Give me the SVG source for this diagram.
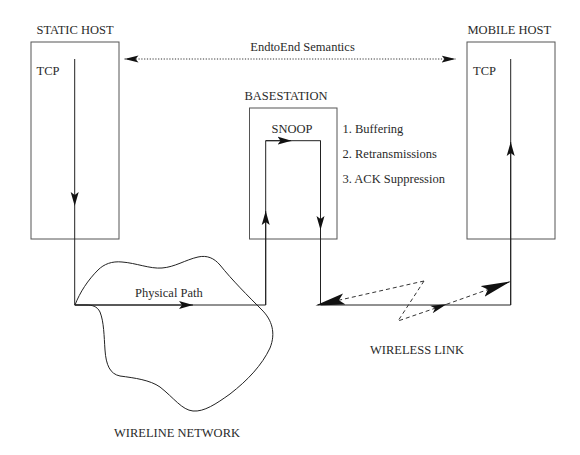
<svg xmlns="http://www.w3.org/2000/svg" width="580" height="455" viewBox="0 0 580 455">
<style>
  text { font-family: "Liberation Serif", "Times New Roman", serif; font-size: 12.5px; fill: #2a2a2a; }
  .box { fill: none; stroke: #555; stroke-width: 1; }
  .line { fill: none; stroke: #222; stroke-width: 1; }
  .dot { fill: none; stroke: #333; stroke-width: 1; stroke-dasharray: 1.2 1.6; }
  .dash { fill: none; stroke: #333; stroke-width: 1; stroke-dasharray: 4 3; }
</style>
<defs>
  <marker id="ah" markerUnits="userSpaceOnUse" markerWidth="16" markerHeight="10" refX="14" refY="4.5" orient="auto">
    <path d="M14,4.5 L0,0.5 L3,4.5 L0,8.5 Z" fill="#111"/>
  </marker>
  <marker id="ahs" markerUnits="userSpaceOnUse" markerWidth="16" markerHeight="10" refX="14" refY="4.5" orient="auto-start-reverse">
    <path d="M14,4.5 L0,1 L3,4.5 L0,8 Z" fill="#111"/>
  </marker>
  <marker id="big" markerUnits="userSpaceOnUse" markerWidth="32" markerHeight="14" refX="29.5" refY="7" orient="auto">
    <path d="M29.5,7 L0,1.3 L5.5,7 L0,12.7 Z" fill="#111"/>
  </marker>
  <marker id="mid" markerUnits="userSpaceOnUse" markerWidth="18" markerHeight="10" refX="16" refY="5" orient="auto">
    <path d="M16,5 L0,1 L4,5 L0,9 Z" fill="#111"/>
  </marker>
</defs>

<g id="wireline-network">
  <path class="line" d="M75,305 C80,292 88,280 98,270 C104,264 112,261 122,262 C136,263 150,269 162,268 C175,267 185,260 198,257 C207,255 214,258 220,265 C232,280 248,296 262,310 C272,320 276,333 270,348 C262,365 248,380 230,394 C216,404 204,412 193,411 C182,410 174,398 160,387 C150,380 135,378 120,376 C110,374 106,365 105,350 C104,336 104,322 100,312 C97,306 92,305 86,305 L75,305 Z"/>
  <text x="114" y="437">WIRELINE NETWORK</text>
</g>

<g id="static-host">
  <rect class="box" x="31" y="42" width="88" height="197"/>
  <text x="36.5" y="34">STATIC HOST</text>
  <text x="36.5" y="75">TCP</text>
</g>

<g id="basestation">
  <rect class="box" x="249.5" y="108" width="87.5" height="131"/>
  <text x="244.5" y="100">BASESTATION</text>
  <text x="271.5" y="132.5">SNOOP</text>
  <text x="342.5" y="132.5">1. Buffering</text>
  <text x="342.5" y="157.5">2. Retransmissions</text>
  <text x="342.5" y="182.5">3. ACK Suppression</text>
</g>

<g id="mobile-host">
  <rect class="box" x="467" y="42" width="88" height="197"/>
  <text x="467.5" y="34">MOBILE HOST</text>
  <text x="473" y="75">TCP</text>
</g>

<g id="connectors">
  <!-- end to end semantics -->
  <path class="dot" d="M124.5,59 L455.5,59" marker-start="url(#ahs)" marker-end="url(#ahs)"/>
  <text x="302.5" y="51" text-anchor="middle">EndtoEnd Semantics</text>

  <!-- physical path, wired -->
  <path class="line" d="M74.7,59 V206" marker-end="url(#ah)"/>
  <path class="line" d="M74.7,206 V305 H193"/>
  <path class="line" d="M74.7,305 H193" marker-end="url(#ah)"/>
  <path class="line" d="M193,305 H265.7 V211"/>
  <path class="line" d="M265.7,305 V211" marker-end="url(#ah)"/>
  <path class="line" d="M265.7,211 V140.7 H291.5"/>
  <path class="line" d="M265.7,140.7 H291.5" marker-end="url(#ah)"/>
  <path class="line" d="M291.5,140.7 H320.5 V230"/>
  <path class="line" d="M320.5,140.7 V230" marker-end="url(#ah)"/>
  <path class="line" d="M320.5,230 V305 H510.7 V142"/>
  <path class="line" d="M510.7,305 V142" marker-end="url(#ah)"/>
  <path class="line" d="M510.7,142 V59"/>
  <text x="135" y="297">Physical Path</text>

  <!-- wireless link -->
  <path class="dash" d="M424,281 L315.5,305.5" marker-end="url(#big)"/>
  <path class="dash" d="M424,281 L398,321 L446.5,304.3" marker-end="url(#mid)"/>
  <path class="dash" d="M446.5,304.3 L510.5,281.5" marker-end="url(#big)"/>
  <text x="370" y="354">WIRELESS LINK</text>
</g>
</svg>
